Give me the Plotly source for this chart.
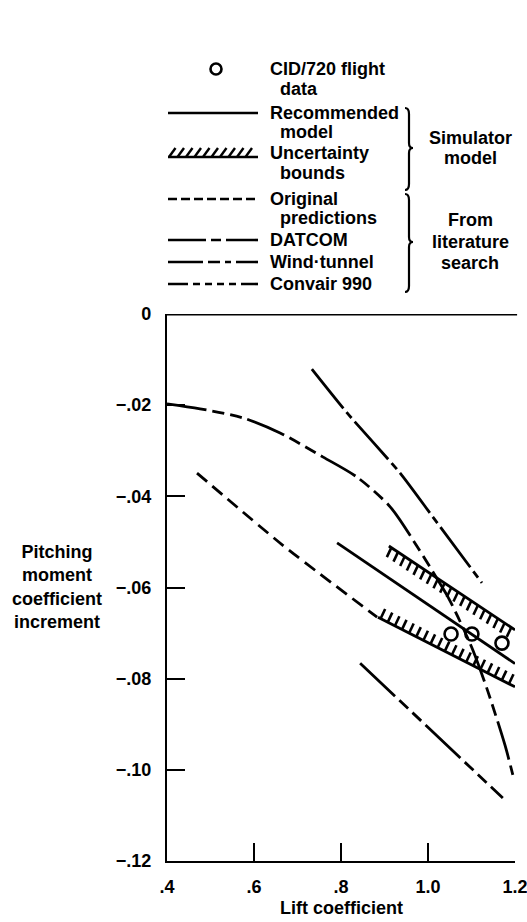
import math
import plotly.graph_objects as go

# ---------------- data ----------------
flight_cl = [1.053, 1.101, 1.170]
flight_cm = [-0.0702, -0.0702, -0.0722]

rec_cl = [0.791, 1.200]
rec_cm = [-0.0502, -0.0767]

upper_cl = [0.910, 1.200]
upper_cm = [-0.0509, -0.0693]
lower_cl = [0.885, 1.200]
lower_cm = [-0.0665, -0.0818]

orig_cl = [0.469, 0.667, 0.883]
orig_cm = [-0.0349, -0.0508, -0.0665]

datcom_cl = [0.733, 0.814, 0.936, 1.011, 1.124]
datcom_cm = [-0.0121, -0.0217, -0.0349, -0.0445, -0.0590]

wind_cl = [0.400, 0.476, 0.575, 0.660, 0.759, 0.837, 0.913, 0.975, 1.023, 1.046,
           1.069, 1.103, 1.138, 1.177, 1.195]
wind_cm = [-0.0197, -0.0208, -0.0228, -0.0261, -0.0314, -0.0358, -0.0423, -0.0510,
           -0.0584, -0.0621, -0.0665, -0.0737, -0.0829, -0.0946, -0.1011]

convair_cl = [0.844, 0.986, 1.172]
convair_cm = [-0.0766, -0.0895, -0.1062]

x_ticks = [0.4, 0.6, 0.8, 1.0, 1.2]
x_ticktext = [".4", ".6", ".8", "1.0", "1.2"]
y_ticks = [0, -0.02, -0.04, -0.06, -0.08, -0.10, -0.12]
y_ticktext = ["0", "\u2212.02", "\u2212.04", "\u2212.06", "\u2212.08", "\u2212.10", "\u2212.12"]

# ---------------- layout geometry ----------------
FIG_W, FIG_H = 527, 922
ML, MR, MT, MB = 167, 12, 314, 61
PW = FIG_W - ML - MR
PH = FIG_H - MT - MB
XR = [0.4, 1.2]
YR = [-0.12, 0.0]

FONT = "Liberation Sans, Arial, Helvetica, sans-serif"
BLACK = "#000000"


def to_px(x, y):
    return (x - XR[0]) / (XR[1] - XR[0]) * PW, (y - YR[0]) / (YR[1] - YR[0]) * PH


def to_data(px, py):
    return XR[0] + px / PW * (XR[1] - XR[0]), YR[0] + py / PH * (YR[1] - YR[0])


def hatch(xs, ys, dx, dy, step=8.0):
    x0, y0 = to_px(xs[0], ys[0])
    x1, y1 = to_px(xs[-1], ys[-1])
    L = math.hypot(x1 - x0, y1 - y0)
    hx, hy = [], []
    d = 3.0
    while d <= L:
        t = d / L
        px, py = x0 + (x1 - x0) * t, y0 + (y1 - y0) * t
        a = to_data(px, py)
        b = to_data(px + dx, py + dy)
        hx += [a[0], b[0], None]
        hy += [a[1], b[1], None]
        d += step
    return hx, hy


def pp(px, py):
    """screen pixel -> paper coords"""
    return (px - ML) / PW, (FIG_H - MB - py) / PH


fig = go.Figure()

line_w = 2.8

fig.add_trace(go.Scatter(x=wind_cl, y=wind_cm, mode="lines", name="Wind-tunnel",
                         line=dict(color=BLACK, width=line_w, shape="spline", smoothing=0.8,
                                   dash="40px,6px,12px,6px,12px,6px")))
fig.add_trace(go.Scatter(x=datcom_cl, y=datcom_cm, mode="lines", name="DATCOM",
                         line=dict(color=BLACK, width=line_w, shape="spline", smoothing=0.6,
                                   dash="50px,5px,8px,5px")))
fig.add_trace(go.Scatter(x=orig_cl, y=orig_cm, mode="lines", name="Original predictions",
                         line=dict(color=BLACK, width=line_w, shape="spline", smoothing=0.6,
                                   dash="13px,7px")))
fig.add_trace(go.Scatter(x=convair_cl, y=convair_cm, mode="lines", name="Convair 990",
                         line=dict(color=BLACK, width=line_w,
                                   dash="48px,6px,12px,6px,12px,6px")))

fig.add_trace(go.Scatter(x=rec_cl, y=rec_cm, mode="lines", name="Recommended model",
                         line=dict(color=BLACK, width=line_w)))
fig.add_trace(go.Scatter(x=upper_cl, y=upper_cm, mode="lines", name="Uncertainty bounds",
                         line=dict(color=BLACK, width=line_w)))
fig.add_trace(go.Scatter(x=lower_cl, y=lower_cm, mode="lines", showlegend=False,
                         line=dict(color=BLACK, width=line_w)))
hx, hy = hatch(upper_cl, upper_cm, -4.5, -9.5)
fig.add_trace(go.Scatter(x=hx, y=hy, mode="lines", showlegend=False,
                         line=dict(color=BLACK, width=2.6)))
hx, hy = hatch(lower_cl, lower_cm, 4.5, 9.5)
fig.add_trace(go.Scatter(x=hx, y=hy, mode="lines", showlegend=False,
                         line=dict(color=BLACK, width=2.6)))

fig.add_trace(go.Scatter(x=flight_cl, y=flight_cm, mode="markers", name="CID/720 flight data",
                         marker=dict(symbol="circle-open", size=13, color=BLACK,
                                     line=dict(color=BLACK, width=2.6)),
                         cliponaxis=False))

shapes = []
annotations = []

# thick top line at zero
shapes.append(dict(type="line", xref="paper", yref="y", x0=0, x1=1.006, y0=0, y1=0,
                   line=dict(color=BLACK, width=3.2)))


def txt(s, px, py, anchor="left", size=18):
    x, y = pp(px, py)
    annotations.append(dict(text=s, x=x, y=y, xref="paper", yref="paper",
                            xanchor=anchor, yanchor="middle", showarrow=False,
                            font=dict(family=FONT, size=size, color=BLACK, weight="bold")))


def seg(px0, px1, py, dash="solid", width=2.6):
    x0, y0 = pp(px0, py)
    x1, y1 = pp(px1, py)
    shapes.append(dict(type="line", xref="paper", yref="paper", x0=x0, x1=x1, y0=y0, y1=y1,
                       line=dict(color=BLACK, width=width, dash=dash)))


def brace(px, ptop, pbot, pmid):
    w = 4.0
    pts = [
        ("M", [(px, ptop)]),
        ("Q", [(px + w, ptop), (px + w, ptop + 6)]),
        ("L", [(px + w, pmid - 5)]),
        ("Q", [(px + w, pmid), (px + 2 * w, pmid)]),
        ("Q", [(px + w, pmid), (px + w, pmid + 5)]),
        ("L", [(px + w, pbot - 6)]),
        ("Q", [(px + w, pbot), (px, pbot)]),
    ]
    path = ""
    for cmd, plist in pts:
        path += cmd + " " + " ".join("%.5f,%.5f" % pp(a, b) for a, b in plist) + " "
    shapes.append(dict(type="path", xref="paper", yref="paper", path=path.strip(),
                       line=dict(color=BLACK, width=2.2)))


LX0, LX1 = 168, 258
TX, TX2 = 268, 278

# CID/720 flight data
cx, cy = 216, 69
r = 5.5
a0 = pp(cx - r, cy + r)
a1 = pp(cx + r, cy - r)
shapes.append(dict(type="circle", xref="paper", yref="paper", x0=a0[0], y0=a0[1],
                   x1=a1[0], y1=a1[1], line=dict(color=BLACK, width=2.6)))
txt("CID/720 flight", TX, 69)
txt("data", TX2, 89)

# Recommended model
seg(LX0, LX1, 113)
txt("Recommended", TX, 113)
txt("model", TX2, 132)

# Uncertainty bounds (hatched sample)
seg(LX0, LX1, 157, width=2.6)
p = LX0 + 1
while p < LX1 - 5:
    q0 = pp(p, 157)
    q1 = pp(p + 6.5, 148)
    shapes.append(dict(type="line", xref="paper", yref="paper", x0=q0[0], y0=q0[1],
                       x1=q1[0], y1=q1[1], line=dict(color=BLACK, width=2.4)))
    p += 8.5
txt("Uncertainty", TX, 153)
txt("bounds", TX2, 173)

# Original predictions
seg(LX0, LX1, 199, dash="9px,4px")
txt("Original", TX, 199)
txt("predictions", TX2, 218)

# DATCOM
seg(LX0, LX1, 240, dash="38px,5px,10px,5px")
txt("DATCOM", TX, 240)

# Wind-tunnel
seg(LX0, LX1, 262, dash="35px,5px,12px,5px,6px,5px")
txt("Wind\u00b7tunnel", TX, 262)

# Convair 990
seg(LX0, LX1, 284, dash="20px,5px,7px,5px,7px,5px,7px,5px,7px,5px")
txt("Convair 990", TX, 284)

# braces and group labels
brace(405, 108, 190, 148)
txt("Simulator", 470, 138, anchor="center")
txt("model", 470, 158, anchor="center")
brace(405, 194, 292, 242)
txt("From", 470, 220, anchor="center")
txt("literature", 470, 242, anchor="center")
txt("search", 470, 263, anchor="center")

# axis titles
txt("Lift coefficient", ML + PW / 2, 908, anchor="center")
yx, yy = pp(57, 587)
annotations.append(dict(text="Pitching<br>moment<br>coefficient<br>increment",
                        x=yx, y=yy, xref="paper", yref="paper", xanchor="center",
                        yanchor="middle", align="center", showarrow=False,
                        font=dict(family=FONT, size=18, color=BLACK, weight="bold")))

fig.update_layout(
    width=FIG_W, height=FIG_H,
    margin=dict(l=ML, r=MR, t=MT, b=MB, pad=0, autoexpand=False),
    paper_bgcolor="white", plot_bgcolor="white",
    showlegend=False,
    shapes=shapes, annotations=annotations,
    font=dict(family=FONT, size=18, color=BLACK),
)
fig.update_xaxes(range=XR, tickvals=x_ticks, ticktext=x_ticktext, automargin=False,
                 showgrid=False, zeroline=False, showline=True, linewidth=2.2, linecolor=BLACK,
                 ticks="inside", ticklen=18, tickwidth=2, tickcolor=BLACK,
                 ticklabelstandoff=8, ticklabeloverflow="allow",
                 tickfont=dict(family=FONT, size=18, color=BLACK, weight="bold"))
fig.update_yaxes(range=YR, tickvals=y_ticks, ticktext=y_ticktext, automargin=False,
                 showgrid=False, zeroline=False, showline=True, linewidth=2.2, linecolor=BLACK,
                 ticks="inside", ticklen=18, tickwidth=2, tickcolor=BLACK,
                 ticklabelstandoff=10, ticklabeloverflow="allow",
                 tickfont=dict(family=FONT, size=18, color=BLACK, weight="bold"))

fig.write_html("out.html", config={"displayModeBar": False, "staticPlot": True})

# remove the default page margin so the figure sits at the window's top-left corner
with open("out.html", "r", encoding="utf-8") as f:
    html = f.read()
html = html.replace("<body>", '<body style="margin:0;padding:0;overflow:hidden;">', 1)
with open("out.html", "w", encoding="utf-8") as f:
    f.write(html)
